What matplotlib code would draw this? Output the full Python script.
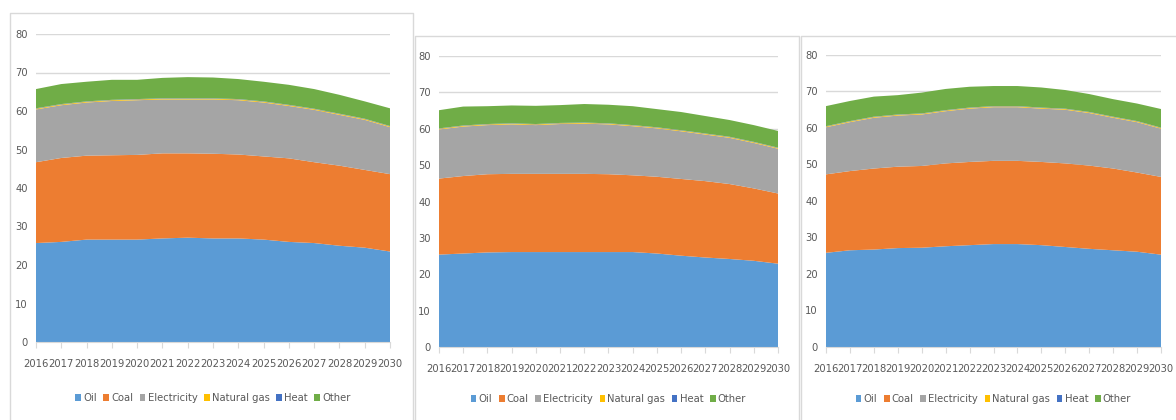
import matplotlib
matplotlib.use("Agg")
import matplotlib.pyplot as plt
from matplotlib import font_manager
from matplotlib.patches import Patch
from matplotlib.lines import Line2D

# excel charts use a narrow font; pick a condensed one if there is one
fonts = font_manager.fontManager.ttflist
if any(f.name == 'Liberation Sans Narrow' for f in fonts):
    font_kw = dict(family='Liberation Sans Narrow', size=9.5)
elif any(f.name == 'DejaVu Sans' and 'Condensed' in f.fname for f in fonts):
    font_kw = dict(family='DejaVu Sans', stretch='condensed', size=8.0)
else:
    font_kw = dict(family='Liberation Sans', size=7.3)
plt.rcParams['font.family'] = [font_kw['family'], 'DejaVu Sans']
plt.rcParams['font.stretch'] = font_kw.get('stretch', 'normal')
fsize = font_kw['size']

years = list(range(2016, 2031))
series_names = ['Oil', 'Coal', 'Electricity', 'Natural gas', 'Heat', 'Other']
colors = ['#5B9BD5', '#ED7D31', '#A5A5A5', '#FFC000', '#4472C4', '#70AD47']

# panel 1
oil_1 = [25.7, 26.0, 26.6, 26.6, 26.6, 26.9, 27.1, 26.9, 26.9, 26.6, 26.0, 25.7, 25.0, 24.5, 23.5]
coal_1 = [21.0, 21.8, 21.8, 21.9, 22.0, 22.1, 21.9, 22.0, 21.8, 21.6, 21.7, 21.0, 20.8, 20.2, 20.1]
elec_1 = [13.7, 13.7, 13.8, 14.1, 14.2, 14.0, 14.0, 14.1, 14.1, 14.0, 13.6, 13.6, 13.2, 13.0, 12.2]
gas_1 = [0.2] * 15
heat_1 = [0.1] * 15
other_1 = [5.0, 5.2, 5.1, 5.2, 5.0, 5.3, 5.5, 5.4, 5.2, 5.1, 5.2, 5.1, 4.9, 4.5, 4.6]

# panel 2
oil_2 = [25.4, 25.7, 26.0, 26.1, 26.1, 26.1, 26.1, 26.1, 26.1, 25.7, 25.1, 24.6, 24.2, 23.7, 22.9]
coal_2 = [20.9, 21.3, 21.5, 21.5, 21.5, 21.5, 21.5, 21.4, 21.1, 21.1, 21.1, 21.0, 20.6, 19.9, 19.3]
elec_2 = [13.5, 13.6, 13.5, 13.6, 13.4, 13.7, 13.8, 13.7, 13.5, 13.3, 13.1, 12.8, 12.7, 12.5, 12.3]
gas_2 = [0.2] * 15
heat_2 = [0.1] * 15
other_2 = [5.0, 5.2, 4.9, 4.9, 5.0, 4.9, 5.1, 5.1, 5.2, 5.0, 5.0, 4.8, 4.6, 4.6, 4.6]

# panel 3
oil_3 = [25.8, 26.5, 26.7, 27.1, 27.2, 27.6, 27.9, 28.2, 28.2, 27.9, 27.4, 26.9, 26.5, 26.1, 25.3]
coal_3 = [21.5, 21.7, 22.2, 22.3, 22.4, 22.7, 22.8, 22.8, 22.8, 22.8, 22.9, 22.8, 22.4, 21.7, 21.3]
elec_3 = [12.9, 13.4, 13.9, 14.0, 14.1, 14.3, 14.6, 14.7, 14.7, 14.6, 14.7, 14.4, 13.9, 13.8, 13.2]
gas_3 = [0.2] * 15
heat_3 = [0.1] * 15
other_3 = [5.5, 5.5, 5.5, 5.3, 5.7, 5.8, 5.7, 5.5, 5.5, 5.5, 5.1, 4.9, 4.8, 4.8, 5.1]

panels = [
    [oil_1, coal_1, elec_1, gas_1, heat_1, other_1],
    [oil_2, coal_2, elec_2, gas_2, heat_2, other_2],
    [oil_3, coal_3, elec_3, gas_3, heat_3, other_3],
]

W, H = 1176, 420
fig = plt.figure(figsize=(W / 100, H / 100), dpi=100)

def px_rect(x0, y0, x1, y1):
    # pixel box (top-left origin) -> figure fraction [l, b, w, h]
    return [x0 / W, 1 - y1 / H, (x1 - x0) / W, (y1 - y0) / H]

# plot areas and the chart borders, in pixels
plot_boxes = [(36, 34, 390, 342), (439, 56, 778, 347), (826, 55, 1161, 347)]
legend_y = [398, 399, 399]
border_col = '#D9D9D9'

def fig_line(xs, ys):
    fig.add_artist(Line2D([x / W for x in xs], [1 - y / H for y in ys],
                          color=border_col, lw=1.0, transform=fig.transFigure))

# chart frames (pasted excel charts)
fig_line([10, 10, 413, 413], [420, 13, 13, 420])
fig_line([415, 415, 799, 799], [420, 36, 36, 420])
fig_line([801, 801, 1176], [420, 36, 36])

txt_col = '#595959'
for i, vals in enumerate(panels):
    x0, y0, x1, y1 = plot_boxes[i]
    ax = fig.add_axes(px_rect(x0, y0, x1, y1))
    ax.stackplot(years, *vals, colors=colors, linewidth=0)
    ax.set_xlim(2016, 2030)
    ax.set_ylim(0, 80)
    ax.set_yticks(range(0, 81, 10))
    ax.set_xticks(years)
    ax.grid(axis='y', color=border_col, lw=1)
    ax.set_axisbelow(True)
    for s in ['top', 'right', 'left']:
        ax.spines[s].set_visible(False)
    ax.spines['bottom'].set_color(border_col)
    ax.tick_params(axis='y', length=0, pad=6, labelsize=fsize, labelcolor=txt_col)
    ax.tick_params(axis='x', length=4, color=border_col, pad=8, labelsize=fsize,
                   labelcolor=txt_col)
    ax.set_facecolor('none')

    handles = [Patch(facecolor=c, edgecolor='none') for c in colors]
    cx = (x0 + x1) / 2 / W
    fig.legend(handles, series_names, loc='center', bbox_to_anchor=(cx, 1 - legend_y[i] / H),
               ncol=6, frameon=False, fontsize=fsize, labelcolor=txt_col,
               handlelength=0.5, handleheight=0.6, handletextpad=0.2, columnspacing=0.6)

fig.savefig('out.png', dpi=100)
